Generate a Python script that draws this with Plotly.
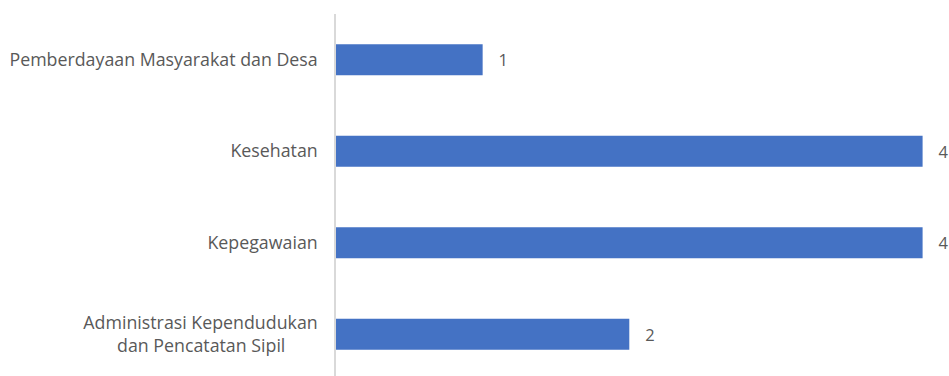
import plotly.graph_objects as go

# Categories listed bottom to top
categories = [
    "Administrasi Kependudukan\ndan Pencatatan Sipil",
    "Kepegawaian",
    "Kesehatan",
    "Pemberdayaan Masyarakat dan Desa",
]
values = [2, 4, 4, 1]

BAR_COLOR = "#4472C4"
TEXT_COLOR = "#595959"
FONT = "Open Sans, sans-serif"
FONT_SIZE = 17.8


def tick_label(name):
    # Two-line labels: pad the shorter line so both lines look centred
    lines = name.split("\n")
    if len(lines) == 1:
        return name
    first, second = lines
    pad = "&nbsp;" * 7
    return f"{first}<br>{second}{pad}"


fig = go.Figure(
    go.Bar(
        x=values,
        y=categories,
        orientation="h",
        marker=dict(color=BAR_COLOR, line=dict(width=0)),
        text=values,
        texttemplate="   %{x}",
        textposition="outside",
        textfont=dict(family=FONT, size=16.5, color=TEXT_COLOR),
        cliponaxis=False,
        width=0.34,
    )
)

fig.update_layout(
    width=949,
    height=376,
    margin=dict(l=336, r=0, t=14, b=0),
    paper_bgcolor="white",
    plot_bgcolor="white",
    showlegend=False,
    font=dict(family=FONT, size=FONT_SIZE, color=TEXT_COLOR),
    xaxis=dict(
        range=[0, 4.18],
        showgrid=False,
        zeroline=False,
        showticklabels=False,
        showline=False,
    ),
    yaxis=dict(
        range=[-0.456, 3.5],
        showgrid=False,
        zeroline=False,
        showline=True,
        linecolor="#D9D9D9",
        linewidth=1.5,
        ticks="",
        ticklabelstandoff=13,
        tickmode="array",
        tickvals=categories,
        ticktext=[tick_label(c) for c in categories],
        tickfont=dict(family=FONT, size=FONT_SIZE, color=TEXT_COLOR),
    ),
)

fig.write_html("out.html")
